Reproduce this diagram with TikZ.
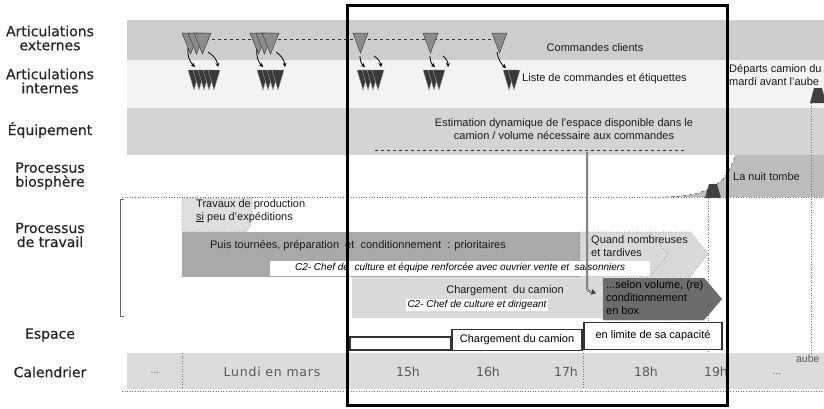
\documentclass[tikz,border=0pt]{standalone}
\usepackage{fontspec}
\setmainfont{Liberation Sans}
\newfontfamily\rowfont[FakeBold=0.6]{DejaVu Sans}
\newfontfamily\hourfont{DejaVu Sans}
\newfontfamily\wideshourfont[LetterSpace=6]{DejaVu Sans}
\usetikzlibrary{arrows.meta}

\definecolor{extband}{HTML}{CDCDCD}
\definecolor{intband}{HTML}{F3F3F3}
\definecolor{equband}{HTML}{D4D4D4}
\definecolor{bioband}{HTML}{BCBCBC}
\definecolor{workband}{HTML}{A9A9A9}
\definecolor{prodbox}{HTML}{DFDFDF}
\definecolor{latebox}{HTML}{D9D9D9}
\definecolor{loadbox}{HTML}{DADADA}
\definecolor{volbox}{HTML}{6C6C6C}
\definecolor{calband}{HTML}{DCDCDC}

\begin{document}
\begin{tikzpicture}[x=1pt,y=-1pt,
    rowlabel/.style={font=\rowfont\fontsize{14}{14}\selectfont, text=black!85, align=center},
    txt/.style={font=\fontsize{11}{13}\selectfont, inner sep=0pt, text=black!90},
    role/.style={font=\fontsize{10}{11}\selectfont\itshape, fill=white, inner sep=1.5pt},
    hour/.style={font=\hourfont\fontsize{12.5}{13}\selectfont, text=black!65},
    ext/.style={fill=black!45, draw=black!75, line width=0.5pt},
    int/.style={fill=black!78, draw=black!35, line width=0.4pt},
    link/.style={-{Stealth[length=4pt,width=4pt]}, line width=0.8pt},
    guide/.style={dotted, black!55, line width=0.6pt},
    spacebox/.style={draw=black!80, line width=1.6pt, fill=white, inner sep=0pt, font=\fontsize{11}{13}\selectfont},
  ]
  \useasboundingbox (0,0) rectangle (824,408);

  \fill[extband] (127,20) rectangle (824,60);
  \fill[intband] (127,60) rectangle (824,108);
  \fill[equband] (127,108) rectangle (824,155);
  \fill[bioband] (665,197) .. controls (702,196) and (727,188) .. (735,155) -- (824,155) -- (824,197) -- cycle;
  \draw[dashed, black!80] (665,197) .. controls (702,196) and (727,188) .. (735,155);
  \fill[calband] (127,353) rectangle (824,389);

  \node[rowlabel] (lext) at (50,38) {Articulations\\externes};
  \node[rowlabel] (lint) at (50,81) {Articulations\\internes};
  \node[rowlabel] (lequ) at (50,130) {Équipement};
  \node[rowlabel] (lbio) at (50,176) {Processus\\biosphère};
  \node[rowlabel] (lwork) at (50,235) {Processus\\de travail};
  \node[rowlabel] (lspace) at (50,335) {Espace};
  \node[rowlabel] (lcal) at (50,372) {Calendrier};

  \draw[dashed, black!80, line width=0.6pt] (200,39) -- (500,39);
  \foreach \x/\n in {182/3, 250/3} {
    \foreach \i in {1,...,\n} {
      \draw[ext] (\x+6*\i-6,33) -- ++(17,0) -- ++(-8.5,21) -- cycle;
    }
  }
  \foreach \x in {353, 423, 492} {
    \draw[ext] (\x,33) -- ++(15,0) -- ++(-7.5,20) -- cycle;
  }
  \foreach \x/\n in {188/5, 257/4, 357/4, 423/3, 503/2} {
    \foreach \i in {1,...,\n} {
      \draw[int] (\x+5*\i-5,70) -- ++(12,0) -- ++(-6,20) -- cycle;
    }
  }
  \draw[link] (188,48) to[bend right=25] (195,67);
  \draw[link] (208,52) to[bend left=25] (218,67);
  \draw[link] (257,49) to[bend right=25] (263,67);
  \draw[link] (276,52) to[bend left=25] (285,67);
  \draw[link] (360,56) to[bend right=25] (365,67);
  \draw[link] (374,56) to[bend left=25] (381,67);
  \draw[link] (430,56) to[bend right=25] (435,67);
  \draw[link] (443,56) to[bend left=25] (448,67);
  \draw[link] (497,52) to[bend right=20] (506,68);

  \node[txt] (orders) at (595,48) {Commandes clients};
  \node[txt, anchor=west] (lists) at (522,79) {Liste de commandes et étiquettes};
  \node[txt, anchor=north west, align=left] (depart) at (729,64) {Départs camion du\\mardi avant l'aube};
  \node[txt, align=center] (estim) at (564,129) {Estimation dynamique de l’espace disponible dans le\\camion / volume nécessaire aux commandes};
  \draw[dashed, black!80, line width=0.6pt] (375,150) -- (685,150);
  \node[txt, anchor=west] (night) at (733,177) {La nuit tombe};

  \fill[black!75] (709,184) -- (717,184) -- (721,198) -- (705,198) -- cycle;
  \fill[black!75] (814,88) -- (822,88) -- (826,103) -- (810,103) -- cycle;
  \draw[guide] (708,198) -- (708,353);
  \draw[guide] (811,103) -- (811,353);

  \draw[guide] (122,197) -- (824,197);
  \draw[black!60, line width=0.6pt] (124,199) -- (120,199) -- (120,316) -- (124,316);

  \draw[guide, fill=prodbox] (182,198) -- (252,198) -- (252,222) -- (246,232) -- (182,232) -- cycle;
  \node[txt, anchor=north west, align=left] (prod) at (196,199) {Travaux de production\\\underline{si} peu d'expéditions};

  \fill[workband] (182,232) rectangle (580,277);
  \node[txt] (prio) at (358,246) {Puis tournées, préparation \ et \ conditionnement \ : prioritaires};
  \draw[guide, fill=latebox] (580,232) -- (690,232) -- (708,254) -- (690,277) -- (580,277) -- cycle;
  \draw[guide] (650,232) -- (668,254) -- (650,277);
  \node[txt, anchor=north west, align=left] (late) at (591,235) {Quand nombreuses\\et tardives};
  \node[role, anchor=west, minimum width=380pt, minimum height=15pt] (crew) at (270,268) {C2- Chef de \ culture et équipe renforcée avec ouvrier vente et \ saisonniers};

  \fill[loadbox] (352,277) rectangle (605,318);
  \node[txt] (load) at (505,291) {Chargement \ du camion};
  \node[role] (loadcrew) at (477,305) {C2- Chef de culture et dirigeant};
  \draw[guide, fill=volbox] (603,278) -- (704,278) -- (722,299) -- (704,320) -- (603,320) -- cycle;
  \node[txt, anchor=north west, align=left, text=black] (volume) at (606,280) {...selon volume, (re)\\conditionnement\\en box};

  \coordinate (estfoot) at (587,152);
  \coordinate (volin) at (596,293);
  \draw[draw=black!80, double=black!30, double distance=1.2pt, -{Stealth[length=5pt,width=6pt]}]
    (estfoot) -- (587,284) .. controls (587,291) .. (volin);

  \draw[draw=black!80, line width=1.2pt, fill=white] (350,337) rectangle (451,350);
  \node[spacebox, minimum width=130pt, minimum height=21pt] (truck) at (517,340) {Chargement du camion};
  \node[spacebox, minimum width=138pt, minimum height=27pt] (limit) at (653,336) {en limite de sa capacité};

  \draw[guide] (122,391) -- (824,391);
  \draw[guide] (182,353) -- (182,389);
  \draw[guide] (583,353) -- (583,389);
  \node[hour, font=\hourfont\fontsize{9}{10}\selectfont] (dotsa) at (155,373) {...};
  \node[hour, font=\wideshourfont\fontsize{12.5}{13}\selectfont] (monday) at (272,372) {Lundi en mars};
  \node[hour] (h15) at (408,372) {15h};
  \node[hour] (h16) at (488,372) {16h};
  \node[hour] (h17) at (566,372) {17h};
  \node[hour] (h18) at (646,372) {18h};
  \node[hour] (h19) at (716,372) {19h};
  \node[hour, font=\hourfont\fontsize{9}{10}\selectfont] (dotsb) at (777,374) {...};
  \node[hour, font=\fontsize{10.5}{12}\selectfont, anchor=east] (dawn) at (823,359) {aube};

  \draw[line width=3pt] (347,5) rectangle (727,405);
\end{tikzpicture}
\end{document}
